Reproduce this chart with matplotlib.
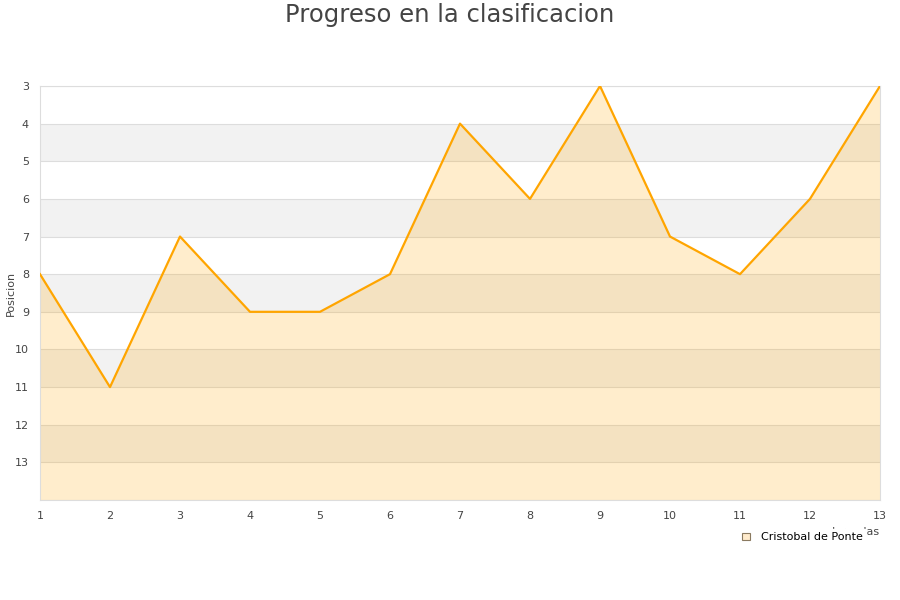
import numpy as np
import matplotlib.pyplot as plt
from matplotlib.patches import Patch

# Jornadas y posicion de Cristobal de Ponte
jornadas = [1, 2, 3, 4, 5, 6, 7, 8, 9, 10, 11, 12, 13]
posicion = [8, 11, 7, 9, 9, 8, 4, 6, 3, 7, 8, 6, 3]
y_ticks = [3, 4, 5, 6, 7, 8, 9, 10, 11, 12, 13]
nombre = 'Cristobal de Ponte'

fig = plt.figure(figsize=(9, 6), dpi=100)
ax = fig.add_axes([40 / 900, 1 - 500 / 600, 840 / 900, 414 / 600])

ymin, ymax = 3, 14
# bandas alternas
for k in range(ymin, ymax):
    if k % 2 == 0:
        ax.axhspan(k, k + 1, color='#f2f2f2', lw=0, zorder=0)
for k in range(ymin, ymax + 1):
    ax.axhline(k, color='#dddddd', lw=0.8, zorder=1)

ax.fill_between(jornadas, posicion, ymax, color='#ffa500', alpha=0.2, lw=0, zorder=2)
ax.plot(jornadas, posicion, color='#ffa500', lw=1.6, zorder=3)

ax.set_xlim(1, 13)
ax.set_ylim(ymax, ymin)
ax.set_xticks(jornadas)
ax.set_yticks(y_ticks)
ax.tick_params(length=0, labelsize=8, colors='#444444')
ax.tick_params(axis='x', pad=8)
ax.tick_params(axis='y', pad=8)
for s in ax.spines.values():
    s.set_color('#dddddd')
    s.set_linewidth(0.8)

ax.set_ylabel('Posicion', fontsize=8, color='#444444')
ax.yaxis.set_label_coords(-24 / 840, 0.5)
ax.set_xlabel('Jornadas', fontsize=8, color='#444444', loc='right', labelpad=4)

fig.text(0.5, 1 - 15 / 600, 'Progreso en la clasificacion', ha='center', va='center',
         fontsize=17.5, color='#444444')

handle = Patch(facecolor='#ffebcc', edgecolor='#8a7a60', lw=0.8)
leg = ax.legend([handle], [nombre], loc='upper right', bbox_to_anchor=(0.99, -0.057),
                frameon=True, fontsize=8, handlelength=0.7, handleheight=0.7,
                borderpad=0.3, handletextpad=1.0)
leg.get_frame().set_facecolor('white')
leg.get_frame().set_edgecolor('white')
leg.get_frame().set_alpha(1)
leg.set_zorder(10)

fig.savefig('out.png', dpi=100, facecolor='white')
